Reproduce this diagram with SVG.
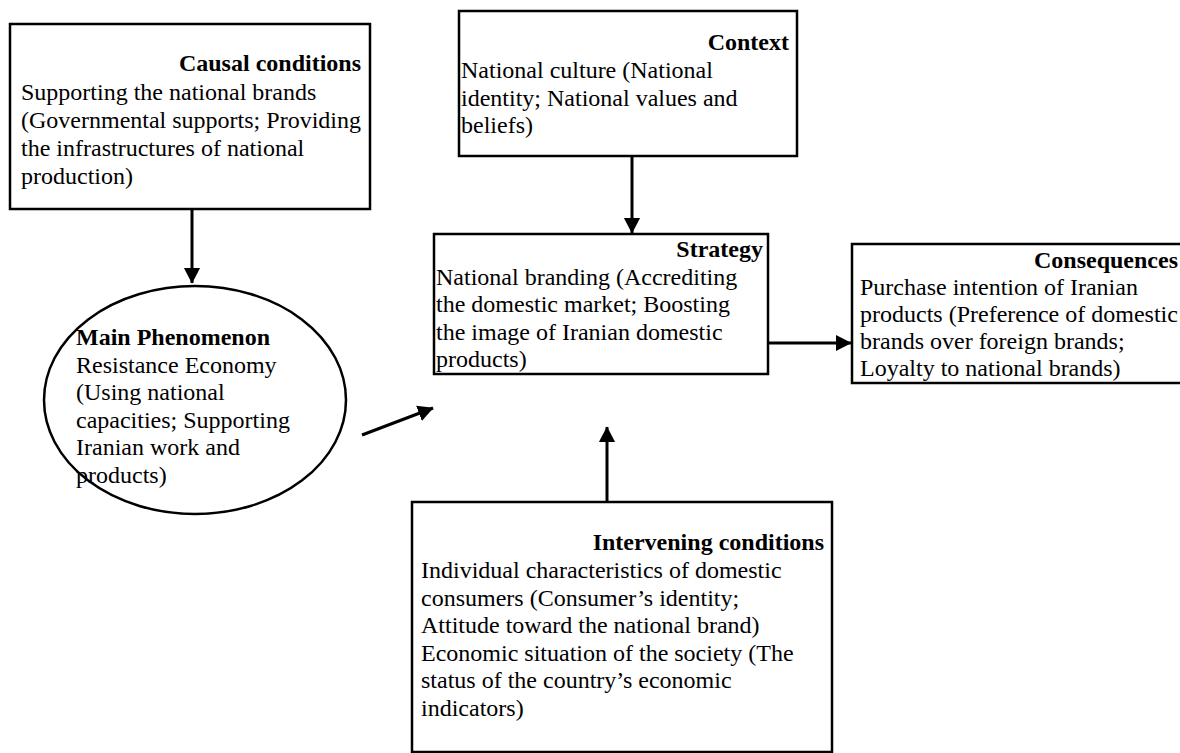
<svg xmlns="http://www.w3.org/2000/svg" width="1180" height="753" viewBox="0 0 1180 753">
<defs>
<marker id="ah" markerWidth="6" markerHeight="6" refX="5" refY="3" orient="auto" markerUnits="strokeWidth">
<path d="M0,0.3 L5.2,3 L0,5.7 Z" fill="#000"/>
</marker>
<style>
.box{fill:#fff;stroke:#000;stroke-width:2.5}
.t{font-family:"Liberation Serif","Times New Roman",serif;font-size:24px;fill:#000}
.b{font-weight:bold}
.e{text-anchor:end}
.c{stroke:#000;stroke-width:3;fill:none;marker-end:url(#ah)}
</style>
</defs>
<rect width="1180" height="753" fill="#fff"/>
<g id="causal">
<rect class="box" x="10" y="24" width="360" height="185"/>
<text class="t b e" x="361" y="71">Causal conditions</text>
<text class="t" x="21" y="100">Supporting the national brands</text>
<text class="t" x="21" y="128">(Governmental supports; Providing</text>
<text class="t" x="21" y="156">the infrastructures of national</text>
<text class="t" x="21" y="184">production)</text>
</g>
<g id="context">
<rect class="box" x="459" y="11" width="338" height="145"/>
<text class="t b e" x="789" y="50">Context</text>
<text class="t" x="461" y="78">National culture (National</text>
<text class="t" x="461" y="106">identity; National values and</text>
<text class="t" x="461" y="133">beliefs)</text>
</g>
<g id="strategy">
<rect class="box" x="434" y="234" width="334" height="140"/>
<text class="t b e" x="763" y="257">Strategy</text>
<text class="t" x="436" y="285">National branding (Accrediting</text>
<text class="t" x="436" y="312">the domestic market; Boosting</text>
<text class="t" x="436" y="340">the image of Iranian domestic</text>
<text class="t" x="436" y="367">products)</text>
</g>
<g id="consequences">
<rect class="box" x="852" y="244" width="340" height="139"/>
<text class="t b e" x="1178" y="268">Consequences</text>
<text class="t" x="860" y="295">Purchase intention of Iranian</text>
<text class="t" x="860" y="322">products (Preference of domestic</text>
<text class="t" x="860" y="349">brands over foreign brands;</text>
<text class="t" x="860" y="376">Loyalty to national brands)</text>
</g>
<g id="phenomenon">
<ellipse class="box" cx="195" cy="400" rx="151" ry="114"/>
<text class="t b" x="76" y="345">Main Phenomenon</text>
<text class="t" x="76" y="373">Resistance Economy</text>
<text class="t" x="76" y="400">(Using national</text>
<text class="t" x="76" y="428">capacities; Supporting</text>
<text class="t" x="76" y="455">Iranian work and</text>
<text class="t" x="76" y="483">products)</text>
</g>
<g id="intervening">
<rect class="box" x="412" y="502" width="420" height="250"/>
<text class="t b e" x="824" y="550">Intervening conditions</text>
<text class="t" x="421" y="578">Individual characteristics of domestic</text>
<text class="t" x="421" y="606">consumers (Consumer’s identity;</text>
<text class="t" x="421" y="633">Attitude toward the national brand)</text>
<text class="t" x="421" y="661">Economic situation of the society (The</text>
<text class="t" x="421" y="688">status of the country’s economic</text>
<text class="t" x="421" y="716">indicators)</text>
</g>
<g id="connectors">
<line class="c" x1="192" y1="209" x2="192" y2="283"/>
<line class="c" x1="632" y1="156" x2="632" y2="233"/>
<line class="c" x1="768" y1="343" x2="851" y2="343"/>
<line class="c" x1="607" y1="502" x2="607" y2="427"/>
<line class="c" x1="362" y1="435" x2="433" y2="408"/>
</g>
</svg>
